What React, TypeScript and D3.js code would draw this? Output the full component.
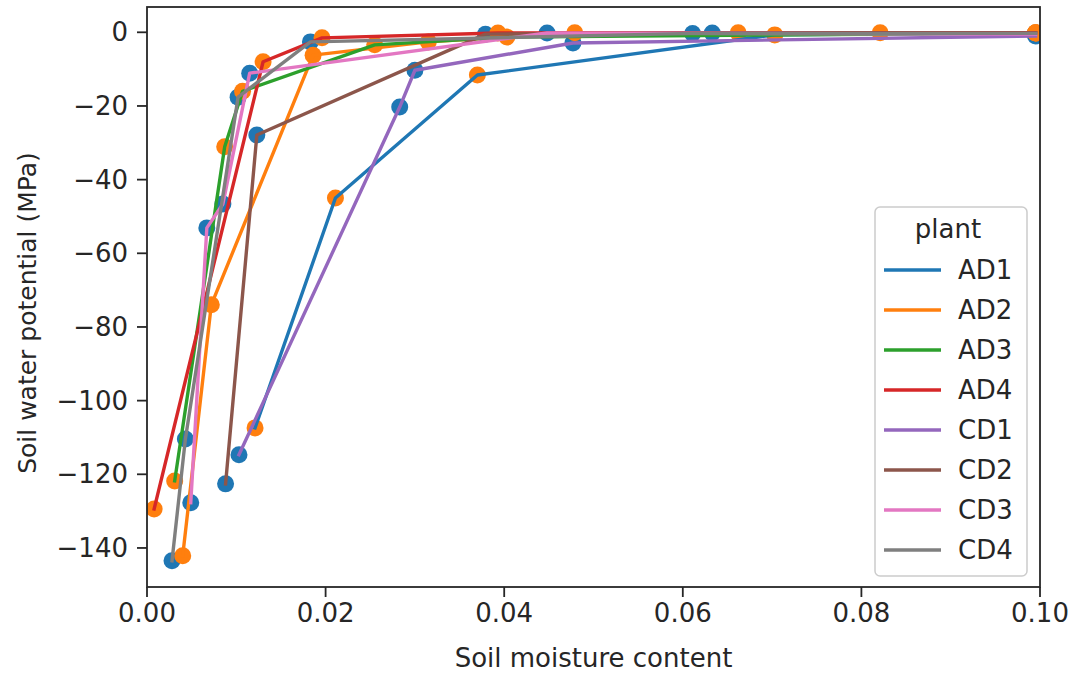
import React from "react";
import * as d3 from "d3";

// Soil water retention curves per plant
const plants = ["AD1", "AD2", "AD3", "AD4", "CD1", "CD2", "CD3", "CD4"];

const moistureAD1 = [0.0121, 0.0211, 0.037, 0.0703, 0.0995];
const potentialAD1 = [-107.4, -45.0, -11.6, -0.7, -0.2];

const moistureAD2 = [0.004, 0.0072, 0.0186, 0.0315, 0.0479, 0.0821, 0.0995];
const potentialAD2 = [-142.1, -74.0, -6.2, -2.6, -0.1, -0.1, -0.1];

const moistureAD3 = [0.0031, 0.0087, 0.0107, 0.0255, 0.0403, 0.0995];
const potentialAD3 = [-121.8, -31.1, -16.0, -3.4, -1.3, -0.2];

const moistureAD4 = [0.0008, 0.013, 0.0196, 0.0393, 0.0662, 0.0995];
const potentialAD4 = [-129.4, -8.0, -1.5, -0.2, -0.1, -0.1];

const moistureCD1 = [0.0103, 0.0283, 0.03, 0.0477, 0.0995];
const potentialCD1 = [-114.7, -20.3, -10.3, -2.9, -1.0];

const moistureCD2 = [0.0088, 0.0123, 0.0379, 0.0633, 0.0995];
const potentialCD2 = [-122.6, -27.9, -0.5, -0.2, -0.2];

const moistureCD3 = [0.0049, 0.0067, 0.0085, 0.0115, 0.0448, 0.0995];
const potentialCD3 = [-127.7, -53.1, -46.6, -11.1, -0.2, -0.5];

const moistureCD4 = [0.0028, 0.0043, 0.0102, 0.0183, 0.0611, 0.0995];
const potentialCD4 = [-143.5, -110.4, -17.6, -2.6, -0.3, -0.3];

const xTicks = [0, 0.02, 0.04, 0.06, 0.08, 0.1];
const yTicks = [0, -20, -40, -60, -80, -100, -120, -140];

const moistureByPlant = [moistureAD1, moistureAD2, moistureAD3, moistureAD4, moistureCD1, moistureCD2, moistureCD3, moistureCD4];
const potentialByPlant = [potentialAD1, potentialAD2, potentialAD3, potentialAD4, potentialCD1, potentialCD2, potentialCD3, potentialCD4];

const tab10 = ["#1f77b4", "#ff7f0e", "#2ca02c", "#d62728", "#9467bd", "#8c564b", "#e377c2", "#7f7f7f"];
// treatment colours for the measured points
const treatmentColor: Record<string, string> = { CD: "#1f77b4", AD: "#ff7f0e" };

const W = 1071;
const H = 674;
const left = 147;
const right = 1040;
const top = 7;
const bottom = 587;
const textColor = "#262626";
const font = "DejaVu Sans, sans-serif";
const fs = 26;

export default function App() {
  const x = d3.scaleLinear().domain([0, 0.1]).range([left, right]);
  const y = d3.scaleLinear().domain([-150.6, 6.87]).range([bottom, top]);

  const series = plants.map((p, i) => ({
    plant: p,
    color: tab10[i],
    treatment: p.slice(0, 2),
    pts: moistureByPlant[i].map((m, j) => ({ m, v: potentialByPlant[i][j] })),
  }));

  const line = d3
    .line<{ m: number; v: number }>()
    .x((d) => x(d.m))
    .y((d) => y(d.v));

  const pointsFor = (t: string) =>
    series.filter((s) => s.treatment === t).flatMap((s) => s.pts.map((p) => ({ ...p, t })));

  const fmtX = d3.format(".2f");
  const fmtY = (v: number) => (v < 0 ? "\u2212" + Math.abs(v) : String(v));

  const legX = 875;
  const legY = 207;
  const legW = 152;
  const legH = 369;

  return (
    <svg
      width={W}
      height={H}
      style={{ position: "fixed", left: 0, top: 0, background: "#fff" }}
      fontFamily={font}
    >
      <defs>
        <clipPath id="plotArea">
          <rect x={left} y={top} width={right - left} height={bottom - top} />
        </clipPath>
      </defs>
      <rect x={0} y={0} width={W} height={H} fill="#fff" />

      <g clipPath="url(#plotArea)">
        {["CD", "AD"].map((t) =>
          pointsFor(t).map((p, k) => (
            <circle key={t + k} cx={x(p.m)} cy={y(p.v)} r={8.5} fill={treatmentColor[t]} />
          ))
        )}
        {series.map((s) => (
          <path
            key={s.plant}
            d={line(s.pts) || ""}
            fill="none"
            stroke={s.color}
            strokeWidth={3.4}
            strokeLinejoin="round"
            strokeLinecap="square"
          />
        ))}
      </g>

      {/* axes frame */}
      <rect x={left} y={top} width={right - left} height={bottom - top} fill="none" stroke="#262626" strokeWidth={1.8} />

      {xTicks.map((t) => (
        <g key={"x" + t}>
          <line x1={x(t)} x2={x(t)} y1={bottom} y2={bottom + 10} stroke="#262626" strokeWidth={1.8} />
          <text x={x(t)} y={bottom + 35} textAnchor="middle" fontSize={fs} fill={textColor}>
            {fmtX(t)}
          </text>
        </g>
      ))}
      {yTicks.map((t) => (
        <g key={"y" + t}>
          <line x1={left - 10} x2={left} y1={y(t)} y2={y(t)} stroke="#262626" strokeWidth={1.8} />
          <text x={left - 19} y={y(t)} dy="0.35em" textAnchor="end" fontSize={fs} fill={textColor}>
            {fmtY(t)}
          </text>
        </g>
      ))}

      <text x={(left + right) / 2} y={667} textAnchor="middle" fontSize={fs} fill={textColor}>
        Soil moisture content
      </text>
      <text
        transform={`translate(36, 313) rotate(-90)`}
        textAnchor="middle"
        fontSize={25}
        fill={textColor}
      >
        Soil water potential (MPa)
      </text>

      {/* legend */}
      <g>
        <rect x={legX} y={legY} width={legW} height={legH} rx={5} fill="#fff" fillOpacity={0.8} stroke="#cccccc" strokeWidth={1.5} />
        <text x={legX + legW / 2 - 3} y={legY + 31} textAnchor="middle" fontSize={fs} fill={textColor}>
          plant
        </text>
        {series.map((s, i) => {
          const cy = legY + 63 + i * 40;
          return (
            <g key={"leg" + s.plant}>
              <line x1={legX + 9} x2={legX + 66} y1={cy} y2={cy} stroke={s.color} strokeWidth={3.4} />
              <text x={legX + 83} y={cy} dy="0.35em" fontSize={fs} fill={textColor}>
                {s.plant}
              </text>
            </g>
          );
        })}
      </g>
    </svg>
  );
}
